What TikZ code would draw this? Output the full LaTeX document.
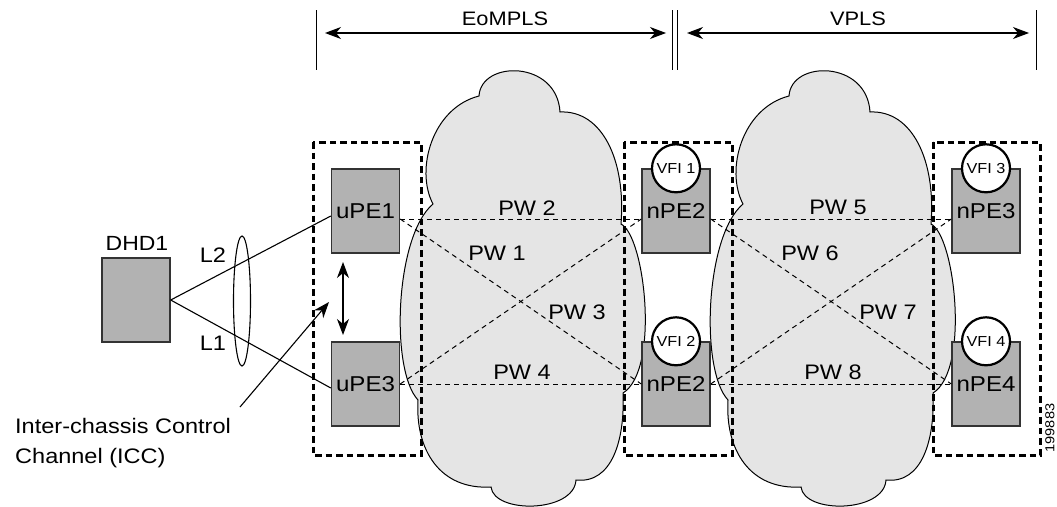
\documentclass[tikz,border=0pt]{standalone}
\usepackage{fontspec}
\setmainfont{Liberation Sans}[FakeStretch=1.12]
\usetikzlibrary{arrows.meta,shapes.geometric}

\begin{document}
\begin{tikzpicture}[x=1pt,y=-1pt,
		pe/.style={draw=black!80,line width=1.4pt,fill=black!30,minimum width=68pt,minimum height=84pt,inner sep=0pt,font=\fontsize{21.5}{24}\selectfont},
		vfi/.style={circle,draw,line width=2.2pt,fill=white,minimum size=48pt,inner sep=0pt,font=\fontsize{14.5}{17}\selectfont},
		grp/.style={line width=3pt,dash pattern=on 6.5pt off 4pt},
		pw/.style={line width=1pt,dash pattern=on 5pt off 4pt},
		lbl/.style={font=\fontsize{21}{24}\selectfont},
		tip/.style={-{Stealth[length=16pt,width=12pt,inset=5pt]}},
		tips/.style={{Stealth[length=16pt,width=12pt,inset=5pt]}-{Stealth[length=16pt,width=12pt,inset=5pt]}},
		cloud/.style={fill=black!10,draw,line width=1pt}]
		\useasboundingbox (0,0) rectangle (1057,506);
		% clouds
		\foreach \dx in {0,310}
		\draw[cloud,shift={(\dx,0)}] (479,96) .. controls (481,60) and (557,60) .. (560,112)
			.. controls (602,110) and (626,160) .. (621,224)
			.. controls (645,236) and (660,370) .. (623,393)
			.. controls (625,440) and (612,484) .. (576,480)
			.. controls (574,513) and (494,514) .. (491,487)
			.. controls (440,490) and (415,450) .. (418,400)
			.. controls (390,370) and (395,236) .. (433,204)
			.. controls (415,170) and (432,108) .. (479,96) -- cycle;
		% groups
		\draw[grp] (313,142) rectangle (421,455);
		\draw[grp] (624,142) rectangle (732,455);
		\draw[grp] (933,142) rectangle (1040,455);
		% top ranges
		\foreach \x in {316,672,677,1036}
		\draw[line width=1pt] (\x,10) -- (\x,70);
		\coordinate (eoL) at (325,33);
		\coordinate (eoR) at (666,33);
		\coordinate (vpL) at (687,33);
		\coordinate (vpR) at (1029,33);
		\draw[tips,line width=1.1pt] (eoL) -- (eoR);
		\draw[tips,line width=1.1pt] (vpL) -- (vpR);
		\node[lbl,font=\fontsize{19.5}{22}\selectfont] (eompls) at (505,19) {EoMPLS};
		\node[lbl,font=\fontsize{19.5}{22}\selectfont] (vpls) at (858,19) {VPLS};
		% boxes
		\node[pe] (dhd) at (136,300) {};
		\node[lbl,font=\fontsize{20.5}{23}\selectfont] (dhdl) at (137,243) {DHD1};
		\node[pe] (upe1) at (365.5,211) {uPE1};
		\node[pe] (upe3) at (365.5,384) {uPE3};
		\node[pe] (npe2a) at (676,211) {nPE2};
		\node[pe] (npe2b) at (676,384) {nPE2};
		\node[pe] (npe3) at (986,211) {nPE3};
		\node[pe] (npe4) at (986,384) {nPE4};
		\node[vfi] (vfi1) at (npe2a.north) {VFI 1};
		\node[vfi] (vfi2) at (npe2b.north) {VFI 2};
		\node[vfi] (vfi3) at (npe3.north) {VFI 3};
		\node[vfi] (vfi4) at (npe4.north) {VFI 4};
		% pseudowires
		\draw[pw] ([yshift=-8pt]upe1.east) -- ([yshift=-8pt]npe2a.west);
		\draw[pw] ([yshift=-8pt]upe1.east) -- (npe2b.west);
		\draw[pw] (upe3.east) -- ([yshift=-8pt]npe2a.west);
		\draw[pw] (upe3.east) -- (npe2b.west);
		\draw[pw] ([yshift=-8pt]npe2a.east) -- ([yshift=-8pt]npe3.west);
		\draw[pw] ([yshift=-8pt]npe2a.east) -- (npe4.west);
		\draw[pw] (npe2b.east) -- ([yshift=-8pt]npe3.west);
		\draw[pw] (npe2b.east) -- (npe4.west);
		\node[lbl] (pw1) at (497,253) {PW 1};
		\node[lbl] (pw2) at (527,208) {PW 2};
		\node[lbl] (pw3) at (577,312) {PW 3};
		\node[lbl] (pw4) at (522,372) {PW 4};
		\node[lbl] (pw5) at (838,207) {PW 5};
		\node[lbl] (pw6) at (810,253) {PW 6};
		\node[lbl] (pw7) at (888,312) {PW 7};
		\node[lbl] (pw8) at (833,372) {PW 8};
		% access links
		\draw[line width=1.1pt] (dhd.east) -- ([yshift=-5pt]upe1.west);
		\draw[line width=1.1pt] (dhd.east) -- ([yshift=-4pt]upe3.west);
		\node[draw,ellipse,line width=1.1pt,minimum width=17pt,minimum height=130pt,inner sep=0pt] (lag) at (242,301) {};
		\node[lbl] (l2) at (213,255) {L2};
		\node[lbl] (l1) at (213,343) {L1};
		% icc
		\coordinate (iccA) at (343,262);
		\coordinate (iccB) at (343,335);
		\draw[tips,line width=1.1pt] (iccA) -- (iccB);
		\coordinate (iccfoot) at (240,407);
		\coordinate (icctip) at (329,302);
		\draw[tip,line width=1.1pt] (iccfoot) -- (icctip);
		\node[anchor=west,align=left,inner sep=0pt,font=\fontsize{21}{30}\selectfont] (icc) at (15,443) {Inter-chassis Control\\Channel (ICC)};
		\node[rotate=90,font=\fontsize{13}{15}\selectfont] (fig) at (1050,428) {199883};
	\end{tikzpicture}
\end{document}
